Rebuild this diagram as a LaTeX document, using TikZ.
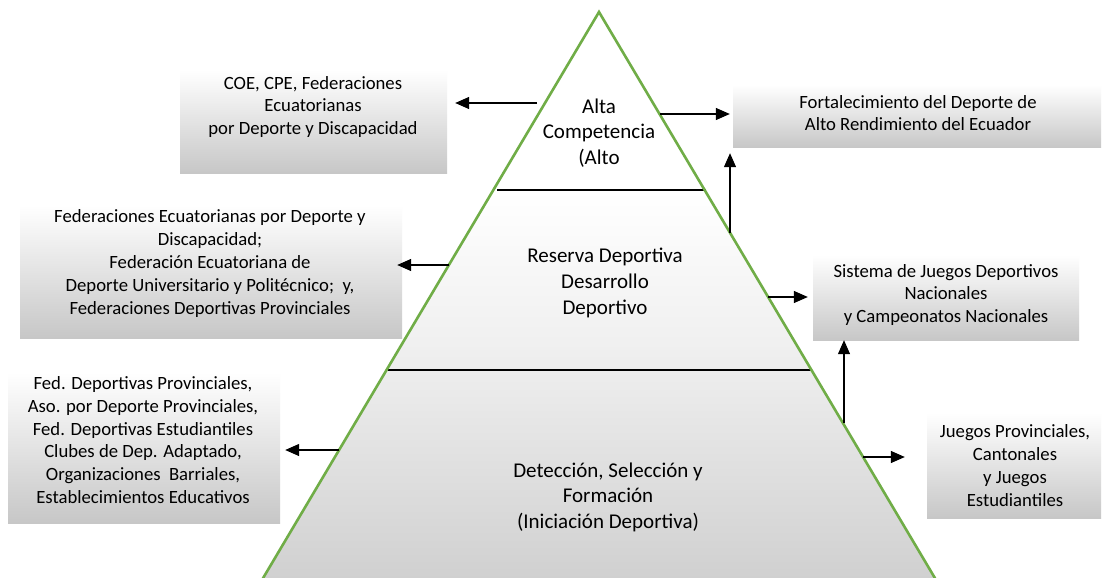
\documentclass[tikz,border=0pt]{standalone}
\usepackage{fontspec}
\setmainfont{Carlito}
\usetikzlibrary{arrows.meta}
\definecolor{pyrgreen}{HTML}{70AD47}
\tikzset{
  box/.style={inner sep=0pt, top color=white, middle color=black!5, bottom color=black!22},
  boxtxt/.style={align=center, inner sep=0pt, font=\fontsize{18.7}{22.8}\selectfont},
  pyrtxt/.style={align=center, inner sep=0pt, font=\fontsize{21}{25.6}\selectfont},
  arr/.style={line width=1.3pt, -{Triangle[length=14pt,width=12pt]}},
}
\begin{document}
\begin{tikzpicture}[x=1pt,y=-1pt]
\clip (0,0) rectangle (1106,578);
\fill[white] (0,0) rectangle (1106,578);
% pyramid
\fill[white] (599,12) -- (493,190) -- (705,190) -- cycle;
\shade[top color=white, bottom color=black!7] (493,190) -- (705,190) -- (812,370) -- (386,370) -- cycle;
\shade[top color=black!7, bottom color=black!19] (386,370) -- (812,370) -- (942,590) -- (256,590) -- cycle;
\draw[line width=1.3pt] (497,190) -- (706,190);
\draw[line width=1.3pt] (388,370) -- (812,370);
\draw[pyrgreen, line width=2.6pt] (256,590) -- (599,12) -- (942,590);
\node[pyrtxt] (alta) at (599,133) {Alta\\Competencia\\(Alto};
\node[pyrtxt] (reserva) at (605,283) {Reserva Deportiva\\Desarrollo\\Deportivo};
\node[pyrtxt] (deteccion) at (608,497) {Detección, Selección y\\Formación\\(Iniciación Deportiva)};
% boxes
\node[box, minimum width=267pt, minimum height=103pt] (coe) at (313.5,121.5) {};
\node[boxtxt] (coe-t) at (313,107) {COE, CPE, Federaciones\\Ecuatorianas\\por Deporte y Discapacidad};
\node[box, minimum width=368pt, minimum height=62pt] (fort) at (917,116) {};
\node[boxtxt] (fort-t) at (918,113) {Fortalecimiento del Deporte de\\Alto Rendimiento del Ecuador};
\node[box, minimum width=382pt, minimum height=133pt] (fedec) at (211,271.5) {};
\node[boxtxt] (fedec-t) at (210,263.5) {Federaciones Ecuatorianas por Deporte y\\Discapacidad;\\Federación Ecuatoriana de\\Deporte Universitario y Politécnico;~ y,\\Federaciones Deportivas Provinciales};
\node[box, minimum width=266pt, minimum height=85pt] (sist) at (946,297.5) {};
\node[boxtxt] (sist-t) at (946,295) {Sistema de Juegos Deportivos\\Nacionales\\y Campeonatos Nacionales};
\node[box, minimum width=272pt, minimum height=151pt] (fedprov) at (144,447.5) {};
\node[boxtxt] (fedprov-t) at (143,440) {Fed. Deportivas Provinciales,\\Aso. por Deporte Provinciales,\\Fed. Deportivas Estudiantiles\\Clubes de Dep. Adaptado,\\Organizaciones~ Barriales,\\Establecimientos Educativos};
\node[box, minimum width=174pt, minimum height=105pt] (jueg) at (1014,465.5) {};
\node[boxtxt] (jueg-t) at (1015,465.5) {Juegos Provinciales,\\Cantonales\\y Juegos\\Estudiantiles};
% arrows
\coordinate (a1) at (537,103);
\coordinate (a2) at (660,114);
\coordinate (a3) at (730,233);
\coordinate (a4) at (449,265);
\coordinate (a5) at (768,297);
\coordinate (a6) at (844,423);
\coordinate (a7) at (863,457);
\coordinate (a8) at (339,450);
\draw[arr, shorten >=8pt] (a1) -- (coe.east |- a1);
\draw[arr, shorten >=3pt] (a2) -- (fort.west |- a2);
\draw[arr, shorten >=6pt] (a3) -- (a3 |- fort.south);
\draw[arr, shorten >=-5pt] (a4) -- (fedec.east |- a4);
\draw[arr, shorten >=5pt] (a5) -- (sist.west |- a5);
\draw[arr] (a6) -- (a6 |- sist.south);
\draw[arr, shorten >=22pt] (a7) -- (jueg.west |- a7);
\draw[arr, shorten >=5pt] (a8) -- (fedprov.east |- a8);
\end{tikzpicture}
\end{document}
